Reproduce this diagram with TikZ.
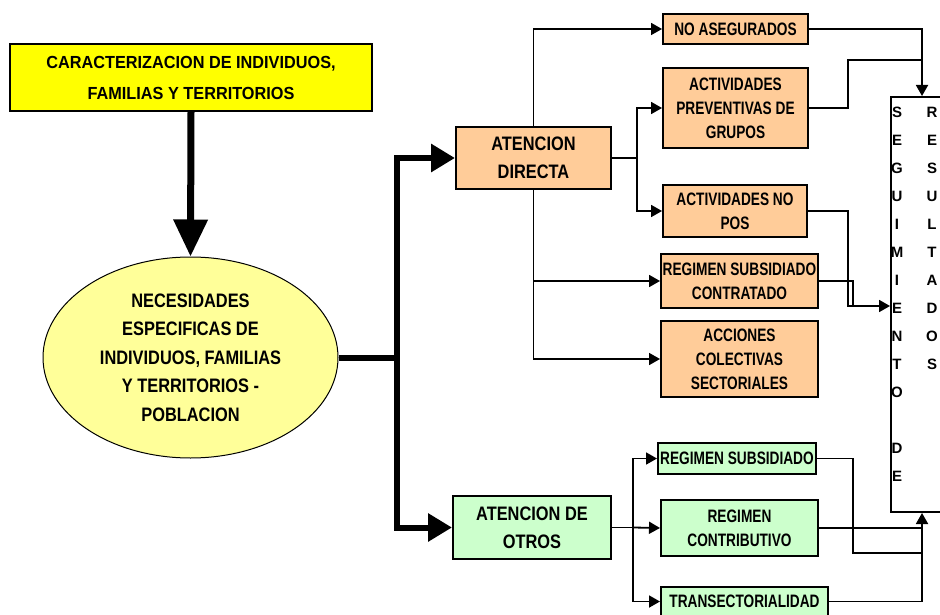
\documentclass[tikz,border=0pt]{standalone}
\usepackage{fontspec}
\setmainfont{Liberation Sans}
\newfontfamily\topfont[FakeStretch=0.93]{Liberation Sans}
\newfontfamily\midfont[FakeStretch=0.84]{Liberation Sans}
\newfontfamily\boxfont[FakeStretch=0.76]{Liberation Sans}
\usetikzlibrary{arrows.meta,shapes.geometric}

\definecolor{yel}{HTML}{FFFF00}
\definecolor{paleyel}{HTML}{FFFF99}
\definecolor{peach}{HTML}{FFCC99}
\definecolor{mint}{HTML}{CCFFCC}

\tikzset{
  box/.style={draw=black, line width=2pt, rectangle, inner sep=0pt, align=center},
  topbox/.style={box, fill=yel, font=\topfont\bfseries\fontsize{17.5}{31}\selectfont},
  oval/.style={draw=black, line width=1pt, ellipse, inner sep=0pt, fill=paleyel,
    align=center, font=\midfont\bfseries\fontsize{19.5}{28.5}\selectfont},
  bigpeach/.style={box, fill=peach, font=\midfont\bfseries\fontsize{19.5}{28}\selectfont},
  biggreen/.style={box, fill=mint, font=\midfont\bfseries\fontsize{19.5}{28}\selectfont},
  smallpeach/.style={box, fill=peach, font=\boxfont\bfseries\fontsize{18}{24}\selectfont},
  smallgreen/.style={box, fill=mint, font=\boxfont\bfseries\fontsize{18}{24}\selectfont},
  letters/.style={inner sep=0pt, align=center, font=\bfseries\fontsize{15}{28}\selectfont},
  link/.style={line width=1.8pt},
  thinarrow/.style={link, -{Triangle[length=11pt,width=12pt]}},
  thickline/.style={line width=6pt},
  thickarrow/.style={thickline, -{Triangle[length=24pt,width=27pt]}},
  mainarrow/.style={line width=7pt, -{Triangle[length=37pt,width=33pt]}}
}

\begin{document}
\begin{tikzpicture}[x=1pt,y=-1pt]
\useasboundingbox (0,0) rectangle (940,615);
\clip (0,0) rectangle (940,615);
\fill[white] (0,0) rectangle (940,615);

% left column
\node[topbox, minimum width=362pt, minimum height=67pt] (top) at (191,77.5)
  {CARACTERIZACION DE INDIVIDUOS,\\FAMILIAS Y TERRITORIOS};
\node[oval, minimum width=295pt, minimum height=201pt] (ell) at (190.5,357.5)
  {NECESIDADES\\ESPECIFICAS DE\\INDIVIDUOS, FAMILIAS\\Y TERRITORIOS -\\POBLACION};

% care branches
\node[bigpeach, minimum width=155pt, minimum height=62pt] (dir) at (533.5,158)
  {ATENCION\\DIRECTA};
\node[biggreen, minimum width=158pt, minimum height=63pt] (otros) at (532,527.5)
  {ATENCION DE\\OTROS};

% direct care activities
\node[smallpeach, minimum width=145pt, minimum height=30pt] (noaseg) at (735.5,29)
  {NO ASEGURADOS};
\node[smallpeach, minimum width=145pt, minimum height=80pt] (prev) at (735.5,108)
  {ACTIVIDADES\\PREVENTIVAS DE\\GRUPOS};
\node[smallpeach, minimum width=144pt, minimum height=52pt] (nopos) at (735,211)
  {ACTIVIDADES NO\\POS};
\node[smallpeach, minimum width=157pt, minimum height=54pt] (rsc) at (739.5,281)
  {REGIMEN SUBSIDIADO\\CONTRATADO};
\node[smallpeach, minimum width=157pt, minimum height=76pt] (acc) at (739.5,359)
  {ACCIONES\\COLECTIVAS\\SECTORIALES};

% care by others
\node[smallgreen, minimum width=158pt, minimum height=31pt] (rs) at (737,458.5)
  {REGIMEN SUBSIDIADO};
\node[smallgreen, minimum width=157pt, minimum height=56pt] (rc) at (739.5,528)
  {REGIMEN\\CONTRIBUTIVO};
\node[smallgreen, minimum width=167pt, minimum height=29pt] (trans) at (744.5,601.5)
  {TRANSECTORIALIDAD};

% follow-up box
\node[box, fill=white, minimum width=62pt, minimum height=415pt] (seg) at (922,304.5) {};
\node[letters, anchor=north] (segtxt) at (897,107)
  {S\\E\\G\\U\\I\\M\\I\\E\\N\\T\\O\\\mbox{}\\D\\E};
\node[letters, anchor=north] (restxt) at (932,107)
  {R\\E\\S\\U\\L\\T\\A\\D\\O\\S};

% junction points
\coordinate (split) at (397,357.5);
\coordinate (d2) at (637,158);
\coordinate (o2) at (633,527.5);
\coordinate (j1) at (922,60);
\coordinate (in1) at (848,306);
\coordinate (in2) at (853,306);
\coordinate (b1) at (922,553);
\coordinate (b2) at (922,528);

% thick connectors
\draw[mainarrow] (top.south) -- (ell.north);
\draw[thickline] (ell.east) -- (split);
\draw[thickarrow] (split) |- (dir.west);
\draw[thickarrow] (split) |- (otros.west);

% direct care connectors
\draw[thinarrow] (dir.north) |- (noaseg.west);
\draw[link] (dir.east) -- (d2);
\draw[thinarrow] (d2) |- (prev.west);
\draw[thinarrow] (d2) |- (nopos.west);
\draw[thinarrow] (dir.south) |- (rsc.west);
\draw[thinarrow] (dir.south) |- (acc.west);

% into the follow-up box, top and left
\draw[thinarrow] (noaseg.east) -| (seg.north);
\draw[link] (prev.east) -| (848,60) -- (j1);
\draw[link] (rsc.east) -| (in2) -- (in1);
\draw[thinarrow] (nopos.east) -| (in1) -- (in1 -| seg.west);

% care by others connectors
\draw[link] (otros.east) -- (o2);
\draw[thinarrow] (o2) |- (rs.west);
\draw[thinarrow] (o2) -- (rc.west);
\draw[thinarrow] (o2) |- (trans.west);

% into the follow-up box, bottom
\draw[link] (rs.east) -| (853,553) -- (b1);
\draw[link] (rc.east) -- (b2);
\draw[thinarrow] (trans.east) -| (seg.south);
\end{tikzpicture}
\end{document}
